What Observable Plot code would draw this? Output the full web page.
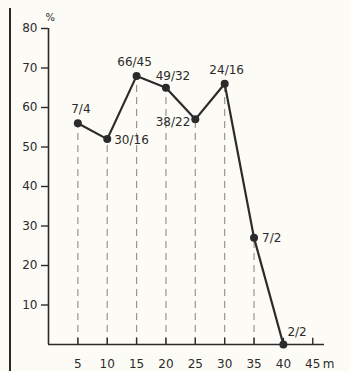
<!DOCTYPE html>
<html>
<head>
<meta charset="utf-8">
<script src="https://cdn.jsdelivr.net/npm/d3@7"></script>
<script src="https://cdn.jsdelivr.net/npm/@observablehq/plot@0.6"></script>
<style>
  html, body { margin: 0; padding: 0; background: #fcfbf6; }
  #wrap { position: relative; width: 350px; height: 371px; overflow: hidden; }
  #edge { position: absolute; left: 9px; top: 8px; bottom: 0; width: 2px; background: #2a2a2a; }
</style>
</head>
<body>
<div id="wrap"><div id="edge"></div></div>
<script>
const distances = [5, 10, 15, 20, 25, 30, 35, 40];
const percents = [56, 52, 68, 65, 57, 66, 27, 0];
const counts = ["7/4", "30/16", "66/45", "49/32", "38/22", "24/16", "7/2", "2/2"];
const xTicks = [5, 10, 15, 20, 25, 30, 35, 40, 45];
const yTicks = [10, 20, 30, 40, 50, 60, 70, 80];

const data = distances.map((d, i) => ({x: d, y: percents[i], label: counts[i]}));

// label offsets (styling), by index
const offsets = [
  {dx: 3, dy: -14, anchor: "middle"},
  {dx: 7, dy: 1, anchor: "start"},
  {dx: -2, dy: -14, anchor: "middle"},
  {dx: 7, dy: -12, anchor: "middle"},
  {dx: -5, dy: 3, anchor: "end"},
  {dx: 2, dy: -14, anchor: "middle"},
  {dx: 8, dy: 0, anchor: "start"},
  {dx: 4, dy: -12, anchor: "start"}
];

const ink = "#2b2b2b";
const font = "DejaVu Sans, sans-serif";

const labelMarks = data.map((d, i) => Plot.text([d], {
  x: "x", y: "y", text: "label",
  dx: offsets[i].dx, dy: offsets[i].dy, textAnchor: offsets[i].anchor,
  fontSize: 12, fill: ink
}));

const chart = Plot.plot({
  width: 350,
  height: 371,
  marginLeft: 48,
  marginTop: 28,
  marginBottom: 27,
  marginRight: 26,
  style: {background: "transparent", fontFamily: font, fontSize: "12px", color: ink},
  x: {domain: [0, 47], ticks: xTicks},
  y: {domain: [0, 80], ticks: yTicks},
  marks: [
    Plot.ruleX(data, {x: "x", y1: 0, y2: "y", stroke: "#959595", strokeWidth: 1.2, strokeDasharray: "7,5"}),
    Plot.ruleY([0], {stroke: ink, strokeWidth: 1.6, dx: 0}),
    Plot.ruleX([0], {y1: 0, y2: 80, stroke: ink, strokeWidth: 1.6}),
    Plot.ruleX(xTicks, {x: d => d, y1: 0, y2: 1.6, stroke: ink, strokeWidth: 1.4}),
    Plot.axisY({ticks: yTicks, tickSize: 7, tickPadding: 4, label: null, stroke: ink, strokeWidth: 1.4, fontSize: 12}),
    Plot.axisX({ticks: xTicks, tickSize: 0, tickPadding: 15, label: null, fontSize: 12}),
    Plot.line(data, {x: "x", y: "y", stroke: ink, strokeWidth: 2.2}),
    Plot.dot(data, {x: "x", y: "y", r: 4, fill: ink, stroke: "none"}),
    ...labelMarks,
    Plot.text(["m"], {frameAnchor: "bottom-right", lineAnchor: "middle", dx: 10, dy: 20, textAnchor: "end", fontSize: 12, fill: ink}),
    Plot.text(["%"], {frameAnchor: "top-left", dx: -3, dy: -15, fontSize: 10, fill: ink})
  ]
});
document.getElementById("wrap").appendChild(chart);
</script>
</body>
</html>
